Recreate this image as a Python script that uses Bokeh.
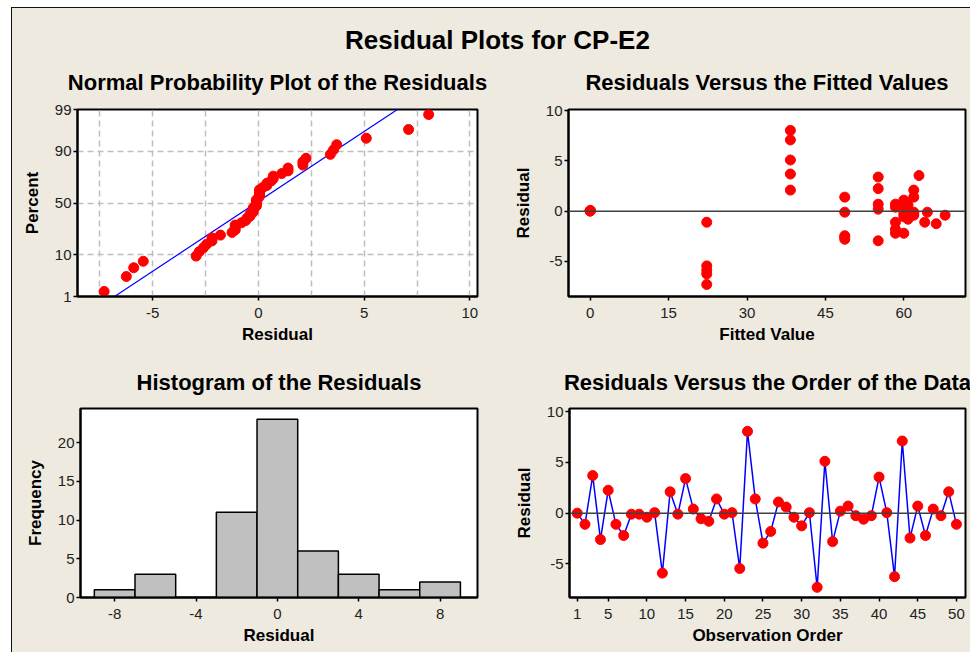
from statistics import NormalDist, mean, stdev
from bokeh.plotting import figure
from bokeh.layouts import column, row
from bokeh.models import Range1d, FixedTicker, Label, Span
from bokeh.embed import file_html
from bokeh.resources import INLINE

# ---------------- data ----------------
observation = list(range(1, 51))
residuals = [0.0, -1.1, 3.7, -2.6, 2.25, -1.1, -2.2, -0.1, -0.1, -0.4,
             0.05, -5.9, 2.1, -0.1, 3.4, 0.4, -0.55, -0.8, 1.4, -0.1,
             0.05, -5.45, 8.05, 1.4, -2.95, -1.8, 1.1, 0.6, -0.4, -1.25,
             0.05, -7.3, 5.1, -2.8, 0.2, 0.7, -0.25, -0.6, -0.25, 3.55,
             0.05, -6.25, 7.1, -2.45, 0.7, -2.2, 0.4, -0.25, 2.1, -1.1]
fitted = [0.0, 22.3, 38.3, 48.7, 55.1, 58.4, 60.0, 60.8, 61.9, 67.9,
          0.0, 22.3, 38.3, 48.7, 55.1, 58.4, 60.0, 60.8, 61.9, 64.5,
          0.0, 22.3, 38.3, 48.7, 55.1, 58.4, 60.0, 60.8, 61.9, 66.2,
          0.0, 22.3, 38.3, 48.7, 55.1, 58.4, 60.0, 60.8, 61.9, 62.9,
          0.0, 22.3, 38.3, 48.7, 55.1, 58.4, 60.0, 60.8, 61.9, 64.0]
hist_centers = [-8, -6, -4, -2, 0, 2, 4, 6, 8]
hist_counts = [1, 3, 0, 11, 23, 6, 3, 1, 2]
prob_tick_percents = [1, 10, 50, 90, 99]
prob_xticks = [-5, 0, 5, 10]
prob_xgrid = [-7.5, -5, -2.5, 0, 2.5, 5, 7.5, 10]
fit_xticks = [0, 15, 30, 45, 60]
resid_yticks = [-5, 0, 5, 10]
hist_xticks = [-8, -4, 0, 4, 8]
hist_yticks = [0, 5, 10, 15, 20]
order_xticks = [1, 5, 10, 15, 20, 25, 30, 35, 40, 45, 50]

BG = "#EEEAE0"
FONT = "Liberation Sans"
RED = "#FF0000"
BLUE = "#0000FF"


def set_ticks(ax, ticks):
    ax.ticker = FixedTicker(ticks=ticks)
    ax.major_label_overrides = {t: str(t) for t in ticks}


def style(p, title, xlabel, ylabel, title_standoff):
    p.title.text = title
    p.title.align = "center"
    p.title.text_font = FONT
    p.title.text_font_size = "22px"
    p.title.text_font_style = "bold"
    p.title.text_color = "black"
    p.title.standoff = title_standoff
    p.background_fill_color = "white"
    p.border_fill_color = BG
    p.outline_line_color = "black"
    p.outline_line_width = 2
    p.outline_line_alpha = 1
    p.xgrid.grid_line_color = None
    p.ygrid.grid_line_color = None
    p.xaxis.axis_label = xlabel
    p.yaxis.axis_label = ylabel
    for ax in (p.xaxis[0], p.yaxis[0]):
        ax.axis_line_color = "black"
        ax.axis_line_width = 2
        ax.major_tick_line_color = "black"
        ax.major_tick_line_width = 1.5
        ax.major_tick_out = 4
        ax.major_tick_in = 0
        ax.minor_tick_line_color = None
        ax.major_label_text_font = FONT
        ax.major_label_text_font_size = "15px"
        ax.major_label_text_color = "#222222"
        ax.axis_label_text_font = FONT
        ax.axis_label_text_font_size = "17px"
        ax.axis_label_text_font_style = "bold"
        ax.axis_label_text_color = "black"
    p.xaxis[0].major_label_standoff = 7
    p.xaxis[0].axis_label_standoff = 4
    p.yaxis[0].major_label_standoff = 2
    p.yaxis[0].axis_label_standoff = 10


def make_fig(w, h, bl, bt, br, bb, xr, yr):
    return figure(width=w, height=h, min_border_left=bl, min_border_top=bt,
                  min_border_right=br, min_border_bottom=bb,
                  x_range=xr, y_range=yr, output_backend="svg",
                  toolbar_location=None, tools="")


# ---------------- main title ----------------
tfig = figure(width=958, height=45, x_range=Range1d(0, 958), y_range=Range1d(0, 45),
              min_border=0, output_backend="svg", toolbar_location=None, tools="")
tfig.axis.visible = False
tfig.grid.grid_line_color = None
tfig.outline_line_color = None
tfig.background_fill_color = BG
tfig.border_fill_color = BG
tfig.add_layout(Label(x=485, y=14, text="Residual Plots for CP-E2", text_align="center",
                      text_baseline="middle", text_font=FONT, text_font_size="26px",
                      text_font_style="bold", text_color="black"))

nd = NormalDist()

# ---------------- normal probability plot ----------------
n = len(residuals)
sorted_res = sorted(residuals)
z_pts = [nd.inv_cdf((i + 1 - 0.3) / (n + 0.4)) for i in range(n)]
z_ticks = [round(nd.inv_cdf(pc / 100.0), 4) for pc in prob_tick_percents]
mu, sd = mean(residuals), stdev(residuals)
z_line = [-2.6, 2.6]
x_line = [mu + sd * z for z in z_line]

p1 = make_fig(478, 299, 65, 56, 13, 56, Range1d(-8.56, 10.36), Range1d(z_ticks[0], z_ticks[-1]))
style(p1, "Normal Probability Plot of the Residuals", "Residual", "Percent", 29)
set_ticks(p1.xaxis[0], prob_xticks)
p1.yaxis.ticker = FixedTicker(ticks=z_ticks)
p1.yaxis.major_label_overrides = {z: str(pc) for z, pc in zip(z_ticks, prob_tick_percents)}
p1.xgrid.ticker = FixedTicker(ticks=prob_xgrid)
p1.ygrid.ticker = FixedTicker(ticks=z_ticks[1:-1])
for g in (p1.xgrid[0], p1.ygrid[0]):
    g.grid_line_color = "#BEBEBE"
    g.grid_line_width = 1.5
    g.grid_line_dash = "6 4"
p1.line(x_line, z_line, line_color=BLUE, line_width=1.2)
p1.scatter(sorted_res, z_pts, size=10, fill_color=RED, line_color=RED)

# ---------------- residuals vs fitted ----------------
p2 = make_fig(480, 299, 78, 56, 5, 56, Range1d(-4.15, 71.8), Range1d(-8.5, 10.13))
style(p2, "Residuals Versus the Fitted Values", "Fitted Value", "Residual", 29)
set_ticks(p2.xaxis[0], fit_xticks)
set_ticks(p2.yaxis[0], resid_yticks)
p2.add_layout(Span(location=0, dimension="width", line_color="#404040", line_width=1.5))
p2.scatter(fitted, residuals, size=10, fill_color=RED, line_color=RED)

# ---------------- histogram ----------------
p3 = make_fig(478, 300, 68, 56, 13, 55, Range1d(-9.68, 9.84), Range1d(0, 24.4))
style(p3, "Histogram of the Residuals", "Residual", "Frequency", 27)
set_ticks(p3.xaxis[0], hist_xticks)
set_ticks(p3.yaxis[0], hist_yticks)
p3.vbar(x=hist_centers, top=hist_counts, width=2, bottom=0,
        fill_color="#C0C0C0", line_color="black", line_width=1.5)

# ---------------- residuals vs order ----------------
p4 = make_fig(480, 300, 79, 56, 5, 55, Range1d(0.0, 51.17), Range1d(-8.3, 10.3))
style(p4, "Residuals Versus the Order of the Data", "Observation Order", "Residual", 27)
set_ticks(p4.xaxis[0], order_xticks)
set_ticks(p4.yaxis[0], resid_yticks)
p4.add_layout(Span(location=0, dimension="width", line_color="#404040", line_width=1.5))
p4.line(observation, residuals, line_color=BLUE, line_width=1.5)
p4.scatter(observation, residuals, size=10, fill_color=RED, line_color=RED)

layout = column(tfig, row(p1, p2), row(p3, p4), spacing=0)
layout.margin = (7, 0, 0, 11)
layout.styles = {"background-color": BG, "border-left": "1px solid #111111",
                 "border-top": "1px solid #111111"}

open("out.html", "w").write(file_html(layout, INLINE))
